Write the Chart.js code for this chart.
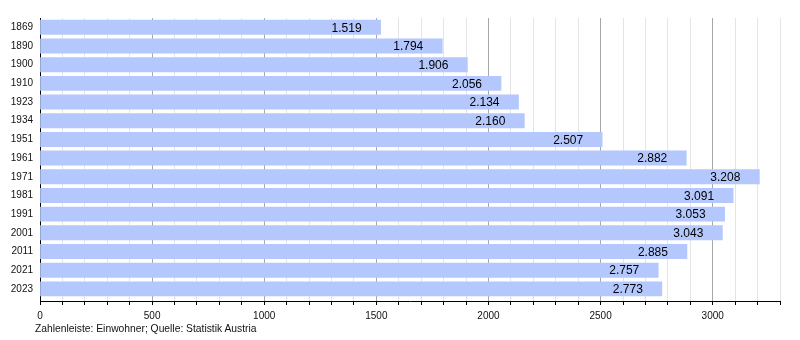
<!DOCTYPE html>
<html>
<head>
<meta charset="utf-8">
<script src="https://cdn.jsdelivr.net/npm/chart.js@4/dist/chart.umd.min.js"></script>
<style>
	html, body { margin:0; padding:0; background:#fff; }
	.wrap { position:relative; width:800px; height:340px; }
	#popChart { display:block; }
	.note { position:absolute; left:35px; top:323px; font:10.3px "Liberation Sans", Arial, sans-serif; color:#111; white-space:nowrap; }
</style>
</head>
<body>
<div class="wrap">
	<canvas id="popChart" width="800" height="340"></canvas>
	<div class="note">Zahlenleiste: Einwohner; Quelle: Statistik Austria</div>
</div>
<script>
const years = ['1869','1890','1900','1910','1923','1934','1951','1961','1971','1981','1991','2001','2011','2021','2023'];
const population = [1519, 1794, 1906, 2056, 2134, 2160, 2507, 2882, 3208, 3091, 3053, 3043, 2885, 2757, 2773];
const axisMax = 3300;
const majorStep = 500;

function fmt(v){
	return String(v).replace(/\B(?=(\d{3})+(?!\d))/g, '.');
}

// value labels, right aligned a bit inside the bar end
const barLabels = {
	id: 'barLabels',
	afterDatasetsDraw(chart){
		const ctx = chart.ctx;
		const meta = chart.getDatasetMeta(0);
		ctx.save();
		ctx.font = '12px "Liberation Sans", Arial, sans-serif';
		ctx.fillStyle = '#000';
		ctx.textAlign = 'right';
		ctx.textBaseline = 'middle';
		meta.data.forEach(function(bar, i){
			ctx.fillText(fmt(population[i]), bar.x - 19, bar.y + 1);
		});
		ctx.restore();
	}
};

new Chart(document.getElementById('popChart'), {
	type: 'bar',
	data: {
		labels: years,
		datasets: [{
			data: population,
			backgroundColor: '#b4c8fd',
			borderWidth: 0,
			barThickness: 14.3
		}]
	},
	options: {
		indexAxis: 'y',
		responsive: false,
		animation: false,
		layout: { padding: { top: 18, right: 20, left: 0, bottom: 0 } },
		plugins: { legend: { display:false }, tooltip: { enabled:false } },
		scales: {
			x: {
				min: 0, max: axisMax,
				afterFit(s){ s.height = 39; },
				border: { color:'#000', width:1 },
				grid: {
					color: c => (c.tick && c.tick.value % majorStep === 0) ? '#a8a8a8' : '#e4e4e4',
					tickColor: '#000',
					tickLength: 4
				},
				ticks: {
					stepSize: 100,
					autoSkip: false,
					maxRotation: 0,
					padding: 5,
					color: '#111',
					font: { family: '"Liberation Sans", Arial, sans-serif', size: 10 },
					callback: v => (v % majorStep === 0) ? String(v) : ''
				}
			},
			y: {
				afterFit(s){ s.width = 40; },
				// leave a little more room below the last bar than above the first
				afterBuildTicks(s){ s._startValue = -0.5; s._valueRange = 15.15; },
				border: { color:'#000', width:1 },
				grid: { display:false, drawTicks:false },
				ticks: {
					padding: 7,
					color: '#111',
					font: { family: '"Liberation Sans", Arial, sans-serif', size: 10 }
				}
			}
		}
	},
	plugins: [barLabels]
});
</script>
</body>
</html>
